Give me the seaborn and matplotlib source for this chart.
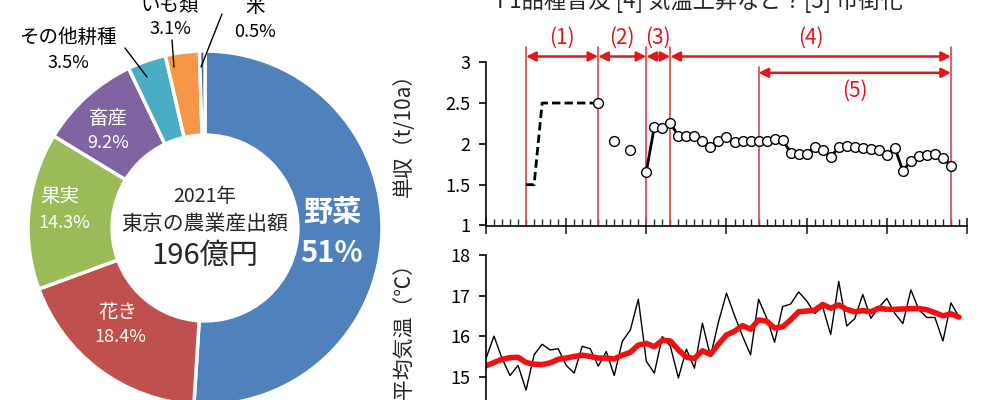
import matplotlib.pyplot as plt
import seaborn as sns
import pandas as pd
from matplotlib.lines import Line2D
from matplotlib.ticker import MultipleLocator

sns.set_theme(style="white")
plt.rcParams['font.family'] = ['Noto Sans CJK JP', 'DejaVu Sans']

# ---- donut: Tokyo agricultural output 2021 ----
crop_names = ['野菜', '花き', '果実', '畜産', 'その他耕種', 'いも類', '米']
crop_shares = [51, 18.4, 14.3, 9.2, 3.5, 3.1, 0.5]
crop_pct = ['51%', '18.4%', '14.3%', '9.2%', '3.5%', '3.1%', '0.5%']
crop_colors = ['#4F81BD', '#C0504D', '#9BBB59', '#8064A2', '#4BACC6', '#F79646', '#3F5F8A']

# ---- yield (t/10a) ----
dash_years = [1965, 1966, 1967, 1974]
dash_yield = [1.5, 1.5, 2.5, 2.5]
dot_years = [1974, 1976, 1978]
dot_yield = [2.5, 2.03, 1.93]
line_years = list(range(1980, 2019))
line_yield = [1.66, 2.21, 2.19, 2.25, 2.10, 2.10, 2.10, 2.04, 1.96, 2.03,
              2.08, 2.02, 2.04, 2.04, 2.04, 2.03, 2.06, 2.05, 1.89, 1.88,
              1.88, 1.96, 1.92, 1.84, 1.96, 1.97, 1.96, 1.95, 1.94, 1.92,
              1.86, 1.95, 1.67, 1.79, 1.85, 1.86, 1.88, 1.83, 1.73]

# periods (1)-(5)
period_names = ['(1)', '(2)', '(3)', '(4)', '(5)']
period_start = [1965, 1974, 1980, 1983, 1994]
period_end = [1974, 1980, 1983, 2018, 2018]

# ---- annual mean temperature ----
temp_years = list(range(1960, 2020))
temp_annual = [15.45, 16.0, 15.45, 15.03, 15.28, 14.67, 15.54, 15.8, 15.66, 15.69,
               15.28, 15.09, 15.75, 15.69, 15.26, 15.62, 15.03, 15.87, 16.15, 16.91,
               15.38, 15.09, 15.99, 15.75, 14.97, 15.68, 15.21, 16.32, 15.5, 16.35,
               17.06, 16.51, 16.0, 15.54, 16.91, 16.45, 15.85, 16.73, 16.79, 17.09,
               16.87, 16.56, 16.72, 16.04, 17.35, 16.25, 16.43, 17.03, 16.44, 16.71,
               16.93, 16.56, 16.31, 17.14, 16.65, 16.46, 16.46, 15.88, 16.82, 16.47]
temp_smooth = [15.27, 15.35, 15.43, 15.47, 15.48, 15.35, 15.31, 15.30, 15.34, 15.43,
               15.46, 15.50, 15.53, 15.50, 15.46, 15.46, 15.44, 15.53, 15.60, 15.78,
               15.82, 15.74, 15.90, 15.88, 15.66, 15.48, 15.45, 15.64, 15.55, 15.80,
               16.03, 16.12, 16.26, 16.17, 16.40, 16.37, 16.20, 16.23, 16.40, 16.60,
               16.62, 16.64, 16.78, 16.69, 16.77, 16.66, 16.60, 16.63, 16.60, 16.69,
               16.66, 16.66, 16.67, 16.68, 16.68, 16.65, 16.58, 16.50, 16.55, 16.47]

W, H = 1000, 400
fig = plt.figure(figsize=(10, 4), dpi=100)


def px(x, y):
    # pixel position (from top-left) -> figure fraction
    return x / W, 1 - y / H


# ---------------- donut ----------------
cx, cy, R = 205, 228, 177
ax_pie = fig.add_axes([(cx - R) / W, 1 - (cy + R) / H, 2 * R / W, 2 * R / H])
ax_pie.pie(crop_shares, colors=crop_colors, startangle=90, counterclock=False,
           wedgeprops=dict(width=0.475, edgecolor='white', linewidth=2.5))
ax_pie.set_xlim(-1, 1)
ax_pie.set_ylim(-1, 1)
ax_pie.set_aspect('equal')
ax_pie.axis('off')

# label positions in pixels: (name xy, pct xy, colour, size, bold)
label_pos = [((332, 212), (332, 253), 'white', 21, 'bold'),
             ((118, 312), (120, 337), 'white', 14, 'normal'),
             ((60, 197), (64, 223), 'white', 14, 'normal'),
             ((108, 118), (108, 143), 'white', 14, 'normal'),
             ((68, 37), (68, 63), 'black', 14, 'normal'),
             ((170, 5), (170, 29), 'black', 14, 'normal'),
             ((255, 6), (255, 32), 'black', 14, 'normal')]
for name, pct, (p1, p2, c, s, w) in zip(crop_names, crop_pct, label_pos):
    fig.text(*px(*p1), name, color=c, fontsize=s, fontweight=w, ha='center', va='center')
    fig.text(*px(*p2), pct, color=c, fontsize=s - 1 if s < 20 else s, fontweight=w,
             ha='center', va='center')

# leader lines for the small slices
for (x0, y0), (x1, y1) in [((125, 48), (147, 77)), ((172, 40), (174, 67)), ((222, 14), (201, 67))]:
    fig.add_artist(Line2D([x0 / W, x1 / W], [1 - y0 / H, 1 - y1 / H], color='black', lw=1))

fig.text(*px(205, 196), '2021年', fontsize=14, ha='center', va='center')
fig.text(*px(205, 224), '東京の農業産出額', fontsize=15, ha='center', va='center')
fig.text(*px(205, 256), '196億円', fontsize=21, ha='center', va='center')

# ---------------- yield panel ----------------
x0px, x1px = 486, 967
ax1 = fig.add_axes([x0px / W, 1 - 225.5 / H, (x1px - x0px) / W, 163.3 / H])
sns.lineplot(x=dash_years, y=dash_yield, ax=ax1, color='black', lw=2, linestyle=(0, (3, 1.5)))
sns.lineplot(x=line_years, y=line_yield, ax=ax1, color='black', lw=2, marker='o',
             markersize=7, markerfacecolor='white', markeredgecolor='black', markeredgewidth=1.0)
sns.scatterplot(x=dot_years, y=dot_yield, ax=ax1, s=50, facecolor='white',
                edgecolor='black', linewidth=1.0, zorder=5)
ax1.set_xlim(1960, 2020)
ax1.set_ylim(1, 3)
ax1.set_yticks([1, 1.5, 2, 2.5, 3])
ax1.set_yticklabels(['1', '1.5', '2', '2.5', '3'])
ax1.set_ylabel('単収（t/10a）', fontsize=15)
ax1.yaxis.set_label_coords(-0.148, 0.585)
ax1.set_xlabel('')

red_line = '#D9453F'
red_txt = '#E3161B'
bounds = sorted(set(period_start + period_end))
for b in bounds:
    top = 2.94 if b == 1994 else 3.19
    ax1.plot([b, b], [1, top], color=red_line, lw=1.2, clip_on=False, zorder=1)
for i, (nm, a, b) in enumerate(zip(period_names, period_start, period_end)):
    y_arr = 2.87 if i == 4 else 3.07
    y_txt = 2.65 if i == 4 else 3.30
    ax1.annotate('', xy=(b, y_arr), xytext=(a, y_arr), annotation_clip=False,
                 arrowprops=dict(arrowstyle='<|-|>', color=red_txt, lw=1.8,
                                 mutation_scale=14, shrinkA=0, shrinkB=0))
    ax1.text((a + b) / 2, y_txt, nm, color=red_txt, fontsize=15, ha='center', va='center')

fig.text(*px(700, 8), 'F1品種普及 [4] 気温上昇など？[5] 市街化', fontsize=16,
         ha='center', va='baseline')

# ---------------- temperature panel ----------------
ax2 = fig.add_axes([x0px / W, 1 - 417.3 / H, (x1px - x0px) / W, 162.3 / H])
sns.lineplot(x=temp_years, y=temp_annual, ax=ax2, color='black', lw=1)
sns.lineplot(x=temp_years, y=temp_smooth, ax=ax2, color='#F01010', lw=4)
ax2.set_xlim(1960, 2020)
ax2.set_ylim(14, 18)
ax2.set_yticks([14, 15, 16, 17, 18])
ax2.set_ylabel('年平均気温（℃）', fontsize=15)
ax2.yaxis.set_label_coords(-0.148, 0.5)
ax2.set_xlabel('')

for ax in (ax1, ax2):
    sns.despine(ax=ax)
    for sp in ('left', 'bottom'):
        ax.spines[sp].set_color('black')
        ax.spines[sp].set_linewidth(1.2)
    ax.xaxis.set_major_locator(MultipleLocator(10))
    ax.xaxis.set_minor_locator(MultipleLocator(1))
    ax.tick_params(axis='y', direction='out', length=5, width=1.2, left=True,
                   labelsize=13, pad=6, colors='black')
    ax.tick_params(axis='x', which='major', direction='inout', length=12, width=1.2,
                   bottom=True, labelbottom=False)
    ax.tick_params(axis='x', which='minor', direction='in', length=5, width=1, bottom=True)
    ax.grid(False)

fig.savefig('out.png', dpi=100)
